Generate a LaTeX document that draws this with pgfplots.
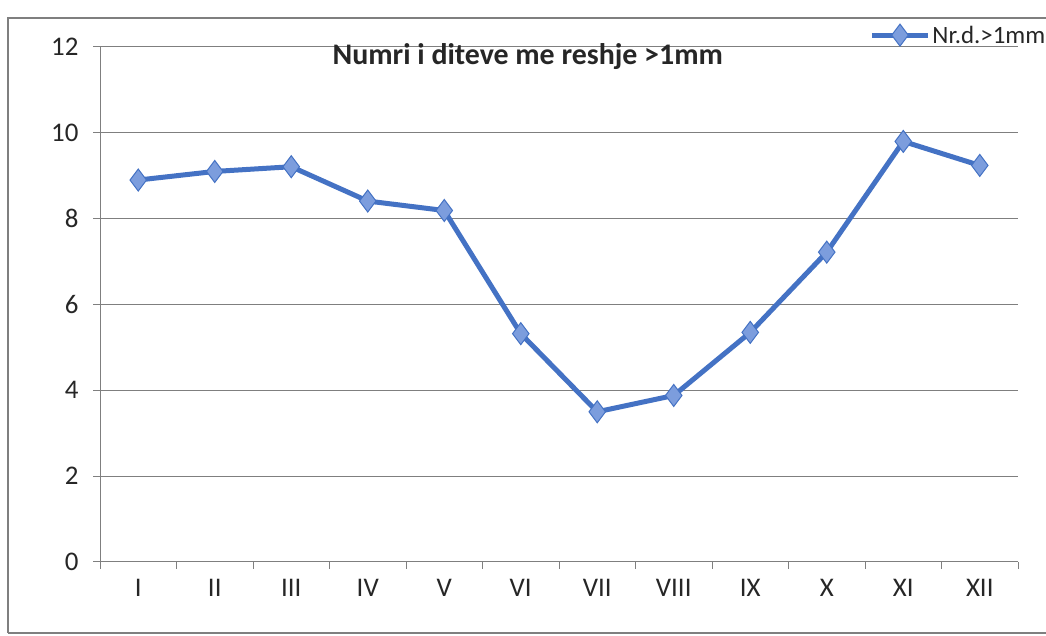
\documentclass[border=0pt]{standalone}
\usepackage{pgfplots}
\pgfplotsset{compat=1.18}
\usepackage{fontspec}
\setmainfont{Carlito}
\definecolor{lineblue}{HTML}{4472C4}
\definecolor{markfill}{HTML}{7C9DDD}
\definecolor{gridgray}{HTML}{7F7F7F}
\begin{document}
\begin{tikzpicture}[x=1bp,y=1bp]
\useasboundingbox (0,0) rectangle (1046,636);
\draw[gridgray, line width=1.2bp] (8,3) -- (8,618) -- (1046,618);
\draw[gridgray, line width=1.2bp] (8,3) -- (1046,3);
\begin{axis}[
  at={(100bp,74bp)}, anchor=south west,
  width=918bp, height=515bp, scale only axis=true,
  xmin=-0.5, xmax=11.5, ymin=0, ymax=12,
  xtick={-0.5,0.5,...,11.5},
  x tick label as interval,
  xticklabels={I,II,III,IV,V,VI,VII,VIII,IX,X,XI,XII},
  ytick={0,2,...,12},
  axis x line*=bottom, axis y line*=left,
  axis line style={gridgray, line width=1bp, -},
  tick align=outside, major tick length=7bp,
  tick style={gridgray, line width=1bp},
  ymajorgrids=true,
  grid style={gridgray, line width=1bp},
  ticklabel style={font=\fontsize{27}{32}\selectfont, text=black!85},
  /pgf/number format/assume math mode=true,
  yticklabel style={xshift=-11bp},
  xticklabel style={yshift=-7bp},
  title={\textbf{Numri i diteve me reshje >1mm}},
  title style={font=\fontsize{30}{36}\selectfont, at={(rel axis cs:0.466,0.955)}, anchor=base, text=black!85},
  legend style={at={(rel axis cs:0.838,1.023)}, anchor=west, draw=none, fill=none,
    font=\fontsize{25}{30}\selectfont, inner sep=0pt, text=black!85},
  legend cell align=left,
  legend image code/.code={
    \draw[#1, mark repeat=2, mark phase=2] plot coordinates {(0bp,0bp) (28bp,0bp) (56bp,0bp)};
  },
  clip=false,
]
\addplot[lineblue, line width=5bp, mark=diamond*, mark size=11bp,
  mark options={fill=markfill, draw=lineblue, line width=1bp}]
  coordinates {
  (0,8.90) (1,9.10) (2,9.21) (3,8.41) (4,8.19) (5,5.32)
  (6,3.50) (7,3.88) (8,5.35) (9,7.22) (10,9.80) (11,9.24)
  };
\addlegendentry{Nr.d.>1mm}
\end{axis}
\end{tikzpicture}
\end{document}
